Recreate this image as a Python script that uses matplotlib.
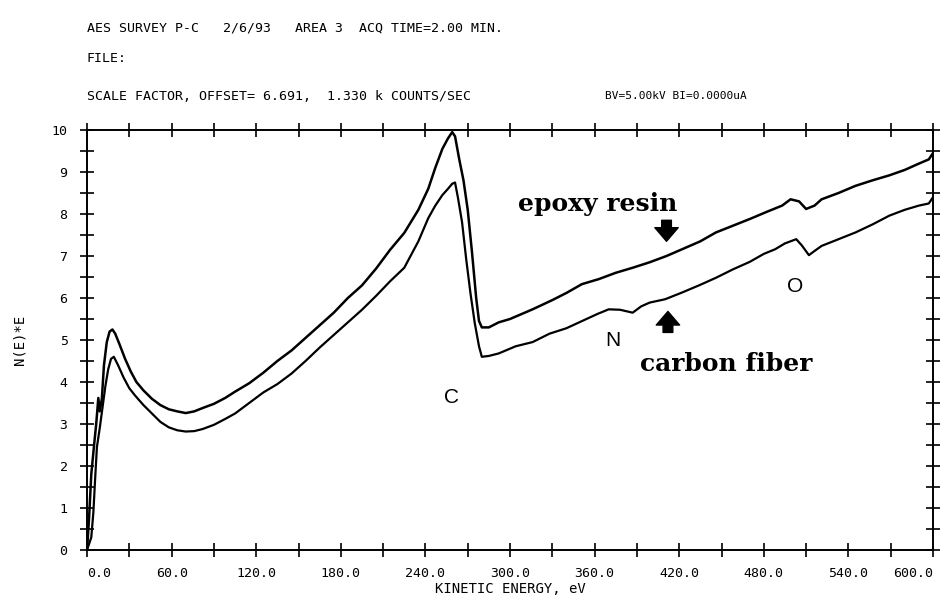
#!/usr/bin/python3

from matplotlib import pyplot as plt
from matplotlib.ticker import MultipleLocator

# epoxy resin (upper trace)
epoxy_ev = [0, 1.5, 3, 5, 6.5, 8, 9, 10.5, 12, 14, 16, 18, 20, 23, 27, 31, 35,
            40, 46, 52, 58, 64, 70, 76, 82, 90, 98, 105, 115, 125, 135, 145,
            155, 165, 175, 185, 195, 205, 215, 225, 235, 242, 247, 252, 256,
            259, 261, 264, 267, 270, 273, 276, 278, 280, 285, 292, 300, 316,
            330, 340, 351, 363, 375, 387, 399, 411, 422, 435, 446, 458, 470,
            482, 493, 499, 505, 510, 516, 521, 533, 545, 557, 569, 580, 590,
            597, 600]
epoxy_ne = [0.0, 0.8, 1.8, 2.5, 3.0, 3.62, 3.3, 3.6, 4.4, 4.95, 5.2, 5.25,
            5.15, 4.9, 4.55, 4.25, 4.0, 3.8, 3.6, 3.45, 3.35, 3.3, 3.26, 3.3,
            3.38, 3.48, 3.62, 3.77, 3.97, 4.22, 4.5, 4.75, 5.05, 5.35, 5.65,
            6.0, 6.3, 6.7, 7.15, 7.55, 8.1, 8.6, 9.1, 9.55, 9.8, 9.95, 9.85,
            9.3, 8.8, 8.1, 7.1, 6.0, 5.45, 5.3, 5.3, 5.42, 5.5, 5.73, 5.95,
            6.12, 6.33, 6.45, 6.6, 6.72, 6.85, 7.0, 7.16, 7.35, 7.56, 7.72,
            7.88, 8.05, 8.2, 8.35, 8.3, 8.12, 8.2, 8.35, 8.5, 8.67, 8.8, 8.92,
            9.05, 9.2, 9.3, 9.45]

# carbon fiber (lower trace)
fiber_ev = [0, 3, 4.5, 5.7, 7, 9, 11, 13, 15, 17, 19, 22, 26, 30, 34, 40, 46,
            52, 58, 64, 70, 76, 82, 90, 98, 105, 115, 125, 135, 145, 155, 165,
            175, 185, 195, 205, 215, 225, 235, 242, 247, 252, 256, 259, 261,
            263, 266, 269, 272, 275, 278, 280, 285, 292, 304, 316, 328, 340,
            351, 362, 370, 378, 387, 393, 399, 410, 422, 434, 446, 458, 470,
            480, 488, 495, 503, 507, 512, 516, 521, 533, 545, 557, 569, 580,
            590, 597, 600]
fiber_ne = [0.0, 0.3, 0.9, 1.67, 2.45, 2.9, 3.4, 3.9, 4.3, 4.55, 4.6, 4.4,
            4.1, 3.85, 3.68, 3.45, 3.25, 3.05, 2.92, 2.85, 2.82, 2.83, 2.88,
            2.98, 3.12, 3.25, 3.5, 3.75, 3.95, 4.2, 4.5, 4.82, 5.12, 5.42,
            5.72, 6.05, 6.4, 6.72, 7.35, 7.9, 8.2, 8.45, 8.6, 8.72, 8.75, 8.4,
            7.8, 6.9, 6.1, 5.4, 4.85, 4.6, 4.62, 4.68, 4.85, 4.95, 5.15, 5.28,
            5.45, 5.62, 5.73, 5.72, 5.65, 5.8, 5.89, 5.97, 6.13, 6.3, 6.48,
            6.68, 6.86, 7.05, 7.16, 7.3, 7.4, 7.25, 7.02, 7.12, 7.24, 7.4,
            7.56, 7.75, 7.96, 8.1, 8.2, 8.25, 8.4]

peak_labels = ['C', 'N', 'O']
peak_pos = [(258.5, 3.63), (373, 4.99), (502, 6.28)]

header = ['AES SURVEY P-C   2/6/93   AREA 3  ACQ TIME=2.00 MIN.',
          'FILE:',
          'SCALE FACTOR, OFFSET= 6.691,  1.330 k COUNTS/SEC']
beam_info = 'BV=5.00kV BI=0.0000uA'

mono = 'DejaVu Sans Mono'

fig = plt.figure(figsize=(9.41, 6.01), dpi=100)
ax = fig.add_axes([0.0925, 0.0849, 0.899, 0.6988])

ax.plot(epoxy_ev, epoxy_ne, color='black', lw=1.8)
ax.plot(fiber_ev, fiber_ne, color='black', lw=1.6)

ax.set_xlim(0, 600)
ax.set_ylim(0, 10)
ax.xaxis.set_major_locator(MultipleLocator(60))
ax.xaxis.set_minor_locator(MultipleLocator(30))
ax.yaxis.set_major_locator(MultipleLocator(1))
ax.yaxis.set_minor_locator(MultipleLocator(0.5))
ax.set_xticks(range(0, 601, 60), ['%.1f' % v for v in range(0, 601, 60)])
ax.tick_params(which='both', direction='inout', length=10, width=1.2,
               top=True, right=True)
ax.tick_params(axis='x', pad=7, labelsize=9.5)
ax.tick_params(axis='y', pad=9, labelsize=9.5)
for lab in ax.get_xticklabels() + ax.get_yticklabels():
    lab.set_family(mono)
xl = ax.get_xticklabels()
xl[0].set_ha('left')
xl[-1].set_ha('right')
for s in ax.spines.values():
    s.set_linewidth(1.4)

ax.set_xlabel('KINETIC ENERGY, eV', family=mono, fontsize=10, labelpad=2)
ax.set_ylabel('N(E)*E', family=mono, fontsize=10, labelpad=18)

for lab, (xv, yv) in zip(peak_labels, peak_pos):
    ax.text(xv, yv, lab, ha='center', va='center', fontsize=15,
            family='Liberation Sans')

ax.text(362, 8.07, 'epoxy resin', ha='center', va='baseline', fontsize=18,
        family='DejaVu Serif', weight='bold')
ax.text(453, 4.27, 'carbon fiber', ha='center', va='baseline', fontsize=18,
        family='DejaVu Serif', weight='bold')

arrow = dict(arrowstyle='simple,head_length=0.7,head_width=1.2,tail_width=0.5',
             color='black', mutation_scale=14, shrinkA=0, shrinkB=0)
ax.annotate('', xy=(411, 7.35), xytext=(411, 7.85), arrowprops=arrow)
ax.annotate('', xy=(412, 5.68), xytext=(412, 5.18), arrowprops=arrow)

for i, line in enumerate(header):
    fig.text(87 / 941, 1 - [28, 58, 96][i] / 601, line, family=mono,
             fontsize=9.5, va='center', ha='left')
fig.text(605 / 941, 1 - 96 / 601, beam_info, family=mono, fontsize=8,
         va='center', ha='left')

fig.savefig('out.png', dpi=100)
plt.close(fig)
